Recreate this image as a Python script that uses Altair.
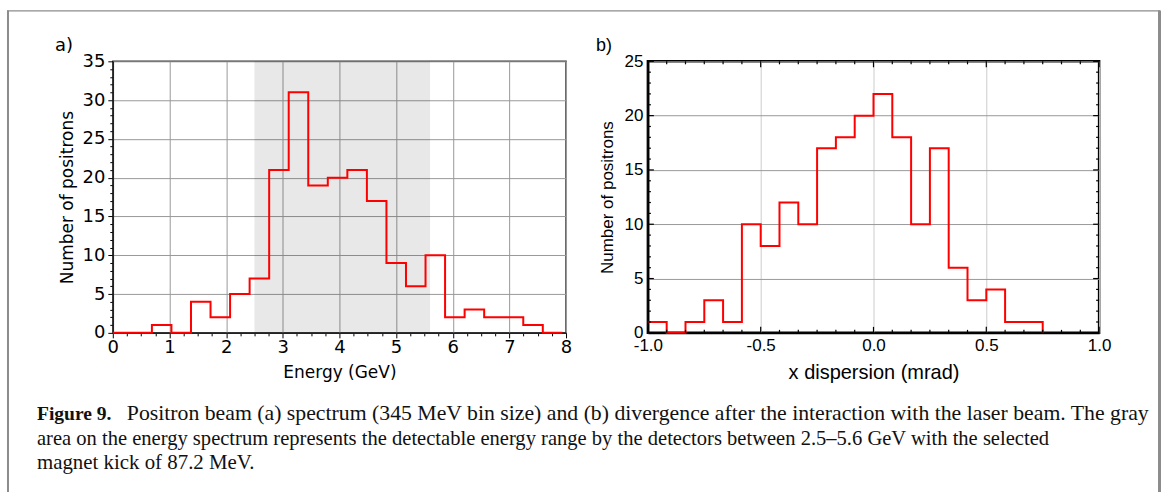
import altair as alt
import pandas as pd

# ---------------- data ----------------
# (a) energy spectrum, 345 MeV bins
energy_edges = [0.0, 0.345, 0.69, 1.035, 1.38, 1.725, 2.07, 2.415, 2.76, 3.105, 3.45, 3.795,
                4.14, 4.485, 4.83, 5.175, 5.52, 5.865, 6.21, 6.555, 6.9, 7.245, 7.59, 7.935]
energy_counts = [0, 0, 1, 0, 4, 2, 5, 7, 21, 31, 19, 20, 21, 17, 9, 6, 10, 2, 3, 2, 2, 1, 0]
band_range = [2.5, 5.6]

# (b) x dispersion
disp_edges = [-1.0, -0.9167, -0.8333, -0.75, -0.6667, -0.5833, -0.5, -0.4167, -0.3333, -0.25,
              -0.1667, -0.0833, 0.0, 0.0833, 0.1667, 0.25, 0.3333, 0.4167, 0.5, 0.5833, 0.6667, 0.75]
disp_counts = [1, 0, 1, 3, 1, 10, 8, 12, 10, 17, 18, 20, 22, 18, 10, 17, 6, 3, 4, 1, 1]

# tick lists
a_x_ticks = [i * 0.25 for i in range(33)]
a_y_ticks = list(range(36))
b_x_major = [-1.0, -0.5, 0.0, 0.5, 1.0]
b_x_minor = [-0.9167, -0.8333, -0.75, -0.6667, -0.5833, -0.4167, -0.3333, -0.25, -0.1667, -0.0833,
             0.0833, 0.1667, 0.25, 0.3333, 0.4167, 0.5833, 0.6667, 0.75, 0.8333, 0.9167]
b_y_major = [0, 5, 10, 15, 20, 25]
b_y_minor = [v for v in range(26) if v % 5 != 0]

caption_bold = "Figure 9."
caption_1 = ("Positron beam (a) spectrum (345 MeV bin size) and (b) divergence after the "
             "interaction with the laser beam. The gray")
caption_2 = ("area on the energy spectrum represents the detectable energy range by the detectors "
             "between 2.5\u20135.6 GeV with the selected")
caption_3 = "magnet kick of 87.2 MeV."

# ---------------- layout constants ----------------
AW, AH = 454, 272
BW, BH = 452, 272
LEFT, TOP = 112, 60
FIG_W, FIG_H = 1165, 492

one = pd.DataFrame({"k": [0]})

# step data
a_df = pd.DataFrame({"E": energy_edges,
                     "N": energy_counts + [energy_counts[-1]]})
b_df = pd.DataFrame({"X": disp_edges,
                     "N": disp_counts + [0]})
band_df = pd.DataFrame({"E": [band_range[0]], "E2": [band_range[1]]})

RED = "#ff0000"

# ---------------- panel a ----------------
a_xscale = alt.Scale(domain=[0, 8], nice=False, zero=False)
a_yscale = alt.Scale(domain=[0, 35], nice=False)

ax_axis = alt.Axis(
    values=a_x_ticks,
    labelExpr="datum.value % 1 === 0 ? format(datum.value, 'd') : ''",
    labelFont="DejaVu Sans", labelFontSize=18, labelColor="black", labelPadding=1,
    labelOverlap=False, labelFlush=False,
    tickColor="black", tickWidth=1,
    tickSize={"condition": {"test": "datum.value % 1 === 0", "value": 5}, "value": 3},
    domainColor="#222", domainWidth=1.5,
    grid=True, gridColor="#999999", gridWidth=1,
    gridOpacity={"condition": {"test": "datum.value % 1 === 0", "value": 1}, "value": 0},
    title="Energy (GeV)", titleFont="DejaVu Sans", titleFontSize=17,
    titleFontWeight="normal", titleColor="black", titlePadding=8,
)
ay_axis = alt.Axis(
    values=a_y_ticks,
    labelExpr="datum.value % 5 === 0 ? format(datum.value, 'd') : ''",
    labelFont="DejaVu Sans", labelFontSize=18, labelColor="black", labelPadding=3,
    labelOverlap=False, labelFlush=False,
    tickColor="black", tickWidth=1,
    tickSize={"condition": {"test": "datum.value % 5 === 0", "value": 5}, "value": 3},
    domainColor="#222", domainWidth=1.5,
    grid=True, gridColor="#999999", gridWidth=1,
    gridOpacity={"condition": {"test": "datum.value % 5 === 0", "value": 1}, "value": 0},
    title="Number of positrons", titleFont="DejaVu Sans", titleFontSize=17,
    titleFontWeight="normal", titleColor="black", titlePadding=5,
)

# invisible rect spanning the whole figure (fixes the overall extent)
extent = alt.Chart(one).mark_rect(fill="white", opacity=0).encode(
    x=alt.value(-LEFT), x2=alt.value(FIG_W - LEFT),
    y=alt.value(-TOP), y2=alt.value(FIG_H - TOP))

frame_left = alt.Chart(one).mark_rule(color="#8c8c8c", strokeWidth=2).encode(
    x=alt.value(7 - LEFT), y=alt.value(9 - TOP), y2=alt.value(FIG_H - TOP))
frame_top = alt.Chart(one).mark_rule(color="#8c8c8c", strokeWidth=1.2).encode(
    x=alt.value(6 - LEFT), x2=alt.value(1161 - LEFT), y=alt.value(9.5 - TOP))
frame_right = alt.Chart(one).mark_rule(color="#8c8c8c", strokeWidth=3).encode(
    x=alt.value(1160.5 - LEFT), y=alt.value(9 - TOP), y2=alt.value(FIG_H - TOP))

band = alt.Chart(band_df).mark_rect(color="black", opacity=0.09).encode(
    x=alt.X("E:Q", scale=a_xscale, axis=ax_axis), x2="E2:Q")

a_line = alt.Chart(a_df).mark_line(interpolate="step-after", color=RED, strokeWidth=2).encode(
    x=alt.X("E:Q", scale=a_xscale, axis=ax_axis),
    y=alt.Y("N:Q", scale=a_yscale, axis=ay_axis))

a_label = alt.Chart(one).mark_text(text="a)", font="DejaVu Sans", fontSize=18,
                                   align="center", baseline="middle", color="black").encode(
    x=alt.value(63 - LEFT), y=alt.value(45 - TOP))

cap_font = "Liberation Serif"
def cap(txt, x, y, size, weight="normal"):
    return alt.Chart(one).mark_text(text=txt, font=cap_font, fontSize=size, fontWeight=weight,
                                    align="left", baseline="alphabetic", color="#111").encode(
        x=alt.value(x - LEFT), y=alt.value(y - TOP))

cap_b = cap(caption_bold, 36, 419, 19.6, "bold")
cap_1 = cap(caption_1, 126, 419, 21.8)
cap_2 = cap(caption_2, 36, 444, 20.6)
cap_3 = cap(caption_3, 36, 468, 20.9)

panel_a = alt.layer(extent, frame_left, frame_top, frame_right, band, a_line, a_label,
                    cap_b, cap_1, cap_2, cap_3).properties(
    width=AW, height=AH,
    view=alt.ViewBackground(stroke="#333333", strokeWidth=1.5))

# ---------------- panel b ----------------
b_xscale = alt.Scale(domain=[-1, 1], nice=False, zero=False)
b_yscale = alt.Scale(domain=[0, 25], nice=False)

bx_axis = alt.Axis(
    values=b_x_major,
    labelExpr="(datum.value < 0 ? '-' : '') + format(abs(datum.value), '.1f')",
    labelFont="Liberation Sans", labelFontSize=17, labelColor="black", labelPadding=5,
    labelOverlap=False, labelFlush=False, ticks=False,
    domainColor="black", domainWidth=2,
    grid=True, gridColor="#cccccc", gridWidth=1,
    title="x dispersion (mrad)", titleFont="Liberation Sans", titleFontSize=20,
    titleFontWeight="normal", titleColor="black", titlePadding=9,
)
by_axis = alt.Axis(
    values=b_y_major, format="d",
    labelFont="Liberation Sans", labelFontSize=17, labelColor="black", labelPadding=5,
    labelOverlap=False, labelFlush=False, ticks=False,
    domainColor="black", domainWidth=2,
    grid=True, gridColor="#999999", gridWidth=1,
    title="Number of positrons", titleFont="Liberation Sans", titleFontSize=17,
    titleFontWeight="normal", titleColor="black", titlePadding=8,
)

bxmaj = pd.DataFrame({"X": b_x_major})
bxmin = pd.DataFrame({"X": b_x_minor})
bymaj = pd.DataFrame({"N": b_y_major})
bymin = pd.DataFrame({"N": b_y_minor})

def xticks(df, length):
    bot = alt.Chart(df).mark_rule(color="black", strokeWidth=1.2).encode(
        x=alt.X("X:Q", scale=b_xscale, axis=bx_axis),
        y=alt.value(BH), y2=alt.value(BH - length))
    top = alt.Chart(df).mark_rule(color="black", strokeWidth=1.2).encode(
        x=alt.X("X:Q", scale=b_xscale, axis=bx_axis),
        y=alt.value(0), y2=alt.value(length))
    return [bot, top]

def yticks(df, length):
    lft = alt.Chart(df).mark_rule(color="black", strokeWidth=1.2).encode(
        y=alt.Y("N:Q", scale=b_yscale, axis=by_axis),
        x=alt.value(0), x2=alt.value(length))
    rgt = alt.Chart(df).mark_rule(color="black", strokeWidth=1.2).encode(
        y=alt.Y("N:Q", scale=b_yscale, axis=by_axis),
        x=alt.value(BW), x2=alt.value(BW - length))
    return [lft, rgt]

b_line = alt.Chart(b_df).mark_line(interpolate="step-after", color=RED, strokeWidth=2).encode(
    x=alt.X("X:Q", scale=b_xscale, axis=bx_axis),
    y=alt.Y("N:Q", scale=b_yscale, axis=by_axis))

b_label = alt.Chart(one).mark_text(text="b)", font="Liberation Sans", fontSize=18,
                                   align="center", baseline="middle", color="black").encode(
    x=alt.value(604 - 648), y=alt.value(45 - TOP))

panel_b = alt.layer(b_line, *xticks(bxmaj, 6), *xticks(bxmin, 3), *yticks(bymaj, 6),
                    *yticks(bymin, 3), b_label).properties(
    width=BW, height=BH,
    view=alt.ViewBackground(stroke="black", strokeWidth=2.5))

chart = alt.HConcatChart(hconcat=[panel_a, panel_b], spacing=648 - LEFT - AW,
                         bounds="flush").properties(
    padding=0, autosize=alt.AutoSizeParams(type="pad"),
    background="white")

chart.save("out.html", embed_options={"renderer": "svg", "actions": False})
